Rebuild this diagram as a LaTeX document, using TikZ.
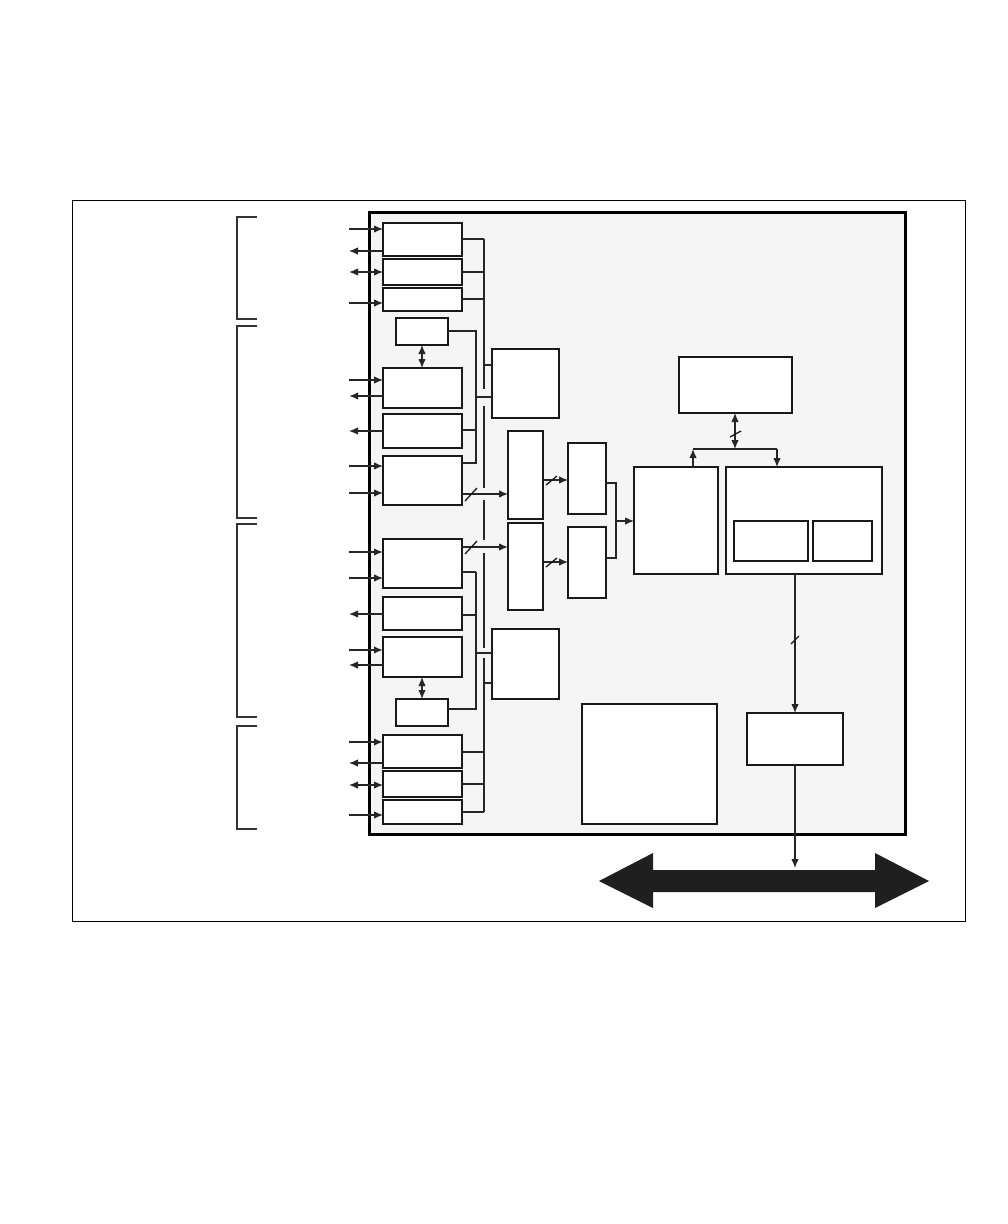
\documentclass[tikz,border=0pt]{standalone}
\usetikzlibrary{arrows.meta}
\newcommand\bx[5]{\node[blk,minimum width={#4-#2},minimum height={#5-#3}] (#1) at (#2,#3) {};}
\begin{document}
\begin{tikzpicture}[x=1pt,y=-1pt,
  blk/.style={draw=black!90,line width=1.6pt,fill=white,inner sep=0pt,outer sep=0pt,anchor=north west},
  ln/.style={line width=1.2pt,draw=black!85},
  tk/.style={line width=2.2pt,draw=black!85},
  arr/.style={ln,-{Latex[length=9pt,width=7.5pt]}},
  tarr/.style={tk,-{Latex[length=9pt,width=7.5pt]}},
  darr/.style={ln,{Latex[length=9pt,width=7.5pt]}-{Latex[length=9pt,width=7.5pt]}},
  rarr/.style={ln,{Latex[length=9pt,width=7.5pt]}-},
  trarr/.style={tk,{Latex[length=9pt,width=7.5pt]}-},
  slash/.style={line width=1.3pt,draw=black!90},
  brk/.style={line width=1.6pt,draw=black!80}]
\useasboundingbox (0,0) rectangle (1008,1224);
% frames
\draw[line width=0.9pt] (72,200) rectangle (965,921);
\draw[line width=3pt,fill=black!4] (369,212) rectangle (905,834);
% brackets
\draw[brk] (257,217) -| (237,319) -- (257,319);
\draw[brk] (257,326) -| (237,518) -- (257,518);
\draw[brk] (257,524) -| (237,717) -- (257,717);
\draw[brk] (257,726) -| (237,829) -- (257,829);
% boxes
\bx{A1}{383}{223}{462}{256}
\bx{A2}{383}{259}{462}{285}
\bx{A3}{383}{288}{462}{311}
\bx{S1}{396}{318}{448}{345}
\bx{B1}{383}{368}{462}{408}
\bx{B2}{383}{414}{462}{448}
\bx{B3}{383}{456}{462}{505}
\bx{C1}{383}{539}{462}{588}
\bx{C2}{383}{597}{462}{630}
\bx{C3}{383}{637}{462}{677}
\bx{S2}{396}{699}{448}{726}
\bx{D1}{383}{735}{462}{768}
\bx{D2}{383}{771}{462}{797}
\bx{D3}{383}{800}{462}{824}
\bx{E1}{492}{349}{559}{418}
\bx{E2}{492}{629}{559}{699}
\bx{F1}{508}{431}{543}{519}
\bx{F2}{508}{523}{543}{610}
\bx{G1}{568}{443}{606}{514}
\bx{G2}{568}{527}{606}{598}
\bx{H}{634}{467}{718}{574}
\bx{I}{679}{357}{792}{413}
\bx{J}{726}{467}{882}{574}
\bx{J1}{734}{521}{808}{561}
\bx{J2}{813}{521}{872}{561}
\bx{K}{747}{713}{843}{765}
\bx{L}{582}{704}{717}{824}
% left side arrows
\foreach \n/\b/\y/\s in {a/A1/229/arr, b/A1/251/rarr, c/A2/272/darr, d/A3/303/arr,
  e/B1/380/arr, f/B1/396/trarr, g/B2/431/rarr, h/B3/466/arr, i/B3/493/arr,
  j/C1/552/tarr, k/C1/578/arr, l/C2/614/rarr, m/C3/650/tarr, n/C3/665/rarr,
  o/D1/742/tarr, p/D1/763/rarr, q/D2/785/darr, r/D3/815/arr}{
  \coordinate (p\n) at (349,\y);
  \draw[\s] (p\n) -- (p\n -| \b.west);
}
% small boxes links
\draw[darr] (S1.south) -- (S1.south |- B1.north);
\draw[darr] (S2.north) -- (S2.north |- C3.south);
% bus 1 (x=484)
\coordinate (t1) at (484,239);
\coordinate (t2) at (484,272);
\coordinate (t3) at (484,299);
\coordinate (t4) at (484,365);
\draw[ln] (A1.east |- t1) -- (t1);
\draw[ln] (A2.east |- t2) -- (t2);
\draw[tk] (A3.east |- t3) -- (t3);
\draw[tk] (t4) -- (t4 -| E1.west);
\draw[ln] (t1) -- (484,389);
\draw[ln] (484,406) -- (484,488);
\draw[ln] (484,500) -- (484,540);
\draw[ln] (484,553) -- (484,648);
\draw[ln] (484,658) -- (484,812);
\coordinate (t5) at (484,683);
\coordinate (t6) at (484,752);
\coordinate (t7) at (484,784);
\coordinate (t8) at (484,812);
\draw[ln] (t5) -- (t5 -| E2.west);
\draw[ln] (D1.east |- t6) -- (t6);
\draw[ln] (D2.east |- t7) -- (t7);
\draw[ln] (D3.east |- t8) -- (t8);
% bus 2 (x=476)
\coordinate (u1) at (476,331);
\coordinate (u2) at (476,430);
\coordinate (u3) at (476,397);
\coordinate (u4) at (476,463);
\draw[ln] (S1.east |- u1) -- (u1) -- (u4) -- (B3.east |- u4);
\draw[ln] (B2.east |- u2) -- (u2);
\draw[ln] (u3) -- (u3 -| E1.west);
\coordinate (w1) at (476,572);
\coordinate (w2) at (476,615);
\coordinate (w3) at (476,653);
\coordinate (w4) at (476,709);
\draw[tk] (C1.east |- w1) -- (w1);
\draw[ln] (w1) -- (w4) -- (S2.east |- w4);
\draw[ln] (C2.east |- w2) -- (w2);
\draw[ln] (w3) -- (w3 -| E2.west);
% bus arrows with slashes
\coordinate (v1) at (490,494);
\coordinate (v2) at (490,547);
\draw[arr] (B3.east |- v1) -- (F1.west |- v1);
\draw[arr] (C1.east |- v2) -- (F2.west |- v2);
\draw[slash] (465,501) -- (477,488);
\draw[slash] (465,554) -- (477,541);
\coordinate (v3) at (555,480);
\coordinate (v4) at (555,562);
\draw[arr] (F1.east |- v3) -- (G1.west |- v3);
\draw[arr] (F2.east |- v4) -- (G2.west |- v4);
\draw[slash] (546,485) -- (557,476);
\draw[slash] (546,567) -- (557,558);
% G -> H
\coordinate (g1) at (616,483);
\coordinate (g2) at (616,558);
\coordinate (g3) at (616,521);
\draw[ln] (G1.east |- g1) -- (g1) -- (g2) -- (G2.east |- g2);
\draw[arr] (g3) -- (g3 -| H.west);
% H, I, J
\coordinate (h1) at (693,449);
\coordinate (j1) at (777,449);
\coordinate (i1) at (735,449);
\draw[arr] (h1 |- H.north) -- (h1);
\draw[ln] (h1) -- (j1);
\draw[arr] (j1) -- (j1 |- J.north);
\draw[darr] (i1 |- I.south) -- (i1);
\draw[slash] (730,437) -- (741,431);
% J -> K -> system bus
\coordinate (k1) at (795,640);
\draw[arr] (k1 |- J.south) -- (k1 |- K.north);
\draw[slash] (791,644) -- (799,636);
\coordinate (bus) at (795,868);
\draw[arr] (k1 |- K.south) -- (bus);
\fill[black!88] (599,881) -- (653,853) -- (653,870) -- (875,870) -- (875,853)
  -- (929,881) -- (875,908) -- (875,892) -- (653,892) -- (653,908) -- cycle;
\end{tikzpicture}
\end{document}
